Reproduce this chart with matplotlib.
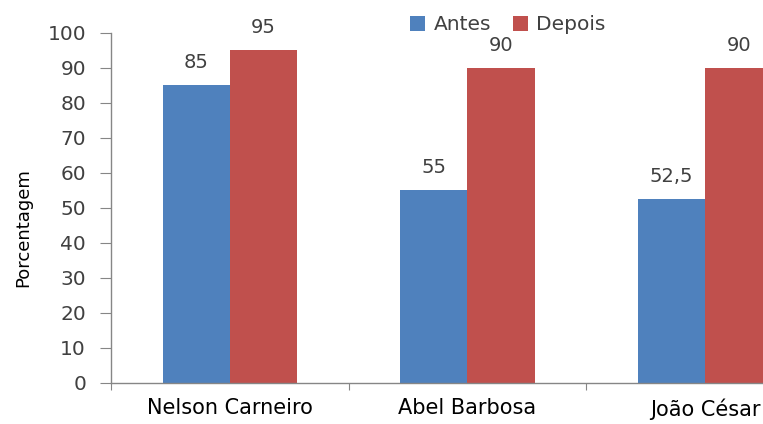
import matplotlib.pyplot as plt
import numpy as np

# dados
escolas = ['Nelson Carneiro', 'Abel Barbosa', 'João César']
antes = [85, 55, 52.5]
depois = [95, 90, 90]
rotulos_antes = ['85', '55', '52,5']
rotulos_depois = ['95', '90', '90']

plt.rcParams['font.family'] = ['DejaVu Sans']

azul = '#4F81BD'
vermelho = '#C0504D'
texto = '#404040'

fig = plt.figure(figsize=(7.63, 4.24), dpi=100)
ax = fig.add_axes([0.1455, 0.0967, 0.8545, 0.8255])

x = np.arange(len(escolas))
w = 0.283

b1 = ax.bar(x - w / 2, antes, w, color=azul, label='Antes')
b2 = ax.bar(x + w / 2, depois, w, color=vermelho, label='Depois')

for barra, rot in zip(b1, rotulos_antes):
    ax.text(barra.get_x() + barra.get_width() / 2, barra.get_height() + 3.8, rot,
            ha='center', va='bottom', fontsize=14, color=texto)
for barra, rot in zip(b2, rotulos_depois):
    ax.text(barra.get_x() + barra.get_width() / 2, barra.get_height() + 3.8, rot,
            ha='center', va='bottom', fontsize=14, color=texto)

ax.set_yticks(range(0, 101, 10))

# marcas do eixo x entre as categorias, nomes centrados
ax.set_xticks(np.arange(-0.5, 3, 1.0))
ax.set_xticklabels([])
ax.set_xticks(x, minor=True)
ax.set_xticklabels(escolas, minor=True, fontsize=15, color='black')
ax.tick_params(axis='x', which='minor', length=0, pad=11)
ax.tick_params(axis='x', which='major', direction='out', length=5, color='#868686')
ax.tick_params(axis='y', direction='out', length=8, color='#868686',
               labelsize=14.5, labelcolor=texto, pad=10)

ax.set_ylim(0, 100)
ax.set_xlim(-0.5, 2.244)

for lado in ['top', 'right']:
    ax.spines[lado].set_visible(False)
for lado in ['left', 'bottom']:
    ax.spines[lado].set_color('#868686')
    ax.spines[lado].set_linewidth(1)

ax.set_ylabel('Porcentagem', fontsize=13, color='black')
ax.yaxis.set_label_coords(-0.121, 0.443)

leg = fig.legend(handles=[b1, b2], loc='center', bbox_to_anchor=(508 / 763, 1 - 25 / 424),
                 ncol=2, frameon=False, fontsize=14.5, handlelength=0.75,
                 handleheight=0.75, columnspacing=1.1, handletextpad=0.4)
for t in leg.get_texts():
    t.set_color(texto)

fig.savefig('out.png', dpi=100)
